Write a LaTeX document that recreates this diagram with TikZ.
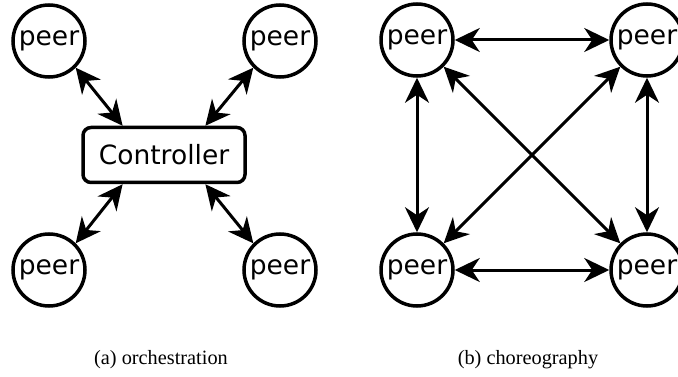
\documentclass[tikz,border=0pt]{standalone}
\usepackage{fontspec}
\setmainfont{Liberation Serif}
\setsansfont{DejaVu Sans}
\usetikzlibrary{arrows.meta,calc}

\tikzset{
	peer/.style = {circle, draw, line width=3.5pt, minimum size=72pt, inner sep=0pt,
		font=\sffamily\fontsize{26.5}{30}\selectfont},
	ctrlbox/.style = {rectangle, draw, rounded corners=8pt, line width=3.5pt,
		minimum width=162pt, minimum height=55pt, inner sep=0pt,
		font=\sffamily\fontsize{26.5}{30}\selectfont},
	link/.style = {line width=3pt, {Stealth[length=25pt, width=24pt, inset=8pt]}-{Stealth[length=25pt, width=24pt, inset=8pt]}},
	caption/.style = {font=\fontsize{20.3}{24}\selectfont}
}

\begin{document}
\begin{tikzpicture}[x=1pt, y=-1pt]
	\useasboundingbox (0,0) rectangle (678,377);

	% orchestration
	\node[ctrlbox] (ctrl) at (164,155) {Controller};
	\node[peer] (a1) at (49,41) {peer};
	\node[peer] (a2) at (280,41) {peer};
	\node[peer] (a3) at (49,270) {peer};
	\node[peer] (a4) at (280,270) {peer};

	\draw[link] (a1.-45) -- ($(ctrl.north west)!0.25!(ctrl.north east)$);
	\draw[link] (a2.-135) -- ($(ctrl.north west)!0.75!(ctrl.north east)$);
	\draw[link] (a3.45) -- ($(ctrl.south west)!0.25!(ctrl.south east)$);
	\draw[link] (a4.135) -- ($(ctrl.south west)!0.75!(ctrl.south east)$);

	% choreography
	\node[peer] (b1) at (417,40) {peer};
	\node[peer] (b2) at (647,40) {peer};
	\node[peer] (b3) at (417,270) {peer};
	\node[peer] (b4) at (647,270) {peer};

	\draw[link] (b1) -- (b2);
	\draw[link] (b3) -- (b4);
	\draw[link] (b1) -- (b3);
	\draw[link] (b2) -- (b4);
	\draw[link] (b1) -- (b4);
	\draw[link] (b2) -- (b3);

	% captions
	\node[caption] (capa) at (161,360) {(a) orchestration};
	\node[caption] (capb) at (528,360) {(b) choreography};
\end{tikzpicture}
\end{document}
